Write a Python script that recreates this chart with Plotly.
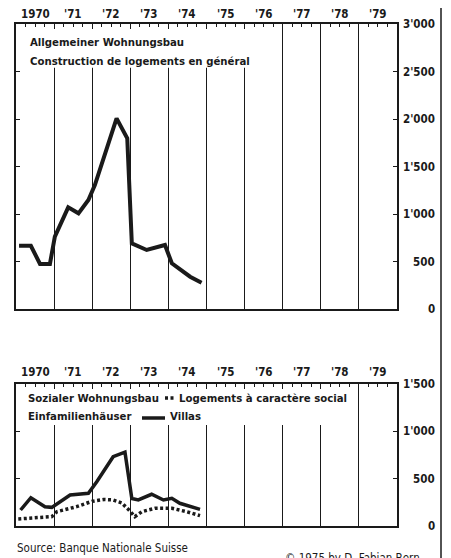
import plotly.graph_objects as go

# ---------------- data ----------------
year_labels = ["1970", "'71", "'72", "'73", "'74", "'75", "'76", "'77", "'78", "'79"]
year_label_pos = [1970.5 + i for i in range(10)]
grid_years = list(range(1970, 1981))

top_ticks = [0, 500, 1000, 1500, 2000, 2500, 3000]
top_tick_text = ["0", "500", "1'000", "1'500", "2'000", "2'500", "3'000"]
bot_ticks = [0, 500, 1000, 1500]
bot_tick_text = ["0", "500", "1'000", "1'500"]

# Allgemeiner Wohnungsbau / Construction de logements en général
general_t = [1970.08, 1970.39, 1970.63, 1970.89, 1971.02, 1971.37, 1971.64, 1971.90,
             1972.07, 1972.64, 1972.92, 1973.04, 1973.43, 1973.91, 1974.09, 1974.57, 1974.87]
general_v = [666, 666, 474, 474, 761, 1070, 1007, 1147,
             1305, 2007, 1797, 691, 621, 674, 481, 340, 277]

# Einfamilienhäuser / Villas
villa_t = [1970.12, 1970.39, 1970.76, 1970.94, 1971.42, 1971.90, 1972.12, 1972.55,
           1972.86, 1973.04, 1973.21, 1973.56, 1973.87, 1974.09, 1974.30, 1974.83]
villa_v = [169, 299, 204, 197, 327, 345, 468, 732,
           780, 290, 275, 335, 275, 292, 240, 176]

# Sozialer Wohnungsbau / Logements à caractère social
social_t = [1970.06, 1970.94, 1971.07, 1971.59, 1971.99, 1972.30, 1972.55, 1972.77,
            1972.95, 1973.12, 1973.30, 1973.65, 1974.09, 1974.48, 1974.83]
social_v = [74, 99, 151, 204, 260, 280, 275, 245,
            175, 99, 151, 187, 187, 151, 109]

# ---------------- layout geometry ----------------
# page body has an 8px default margin, so the figure is drawn 8px smaller
OFF = 8
W, H = 451 - OFF, 558 - OFF
PL, PR, PT, PB = 16, 397, 24, 526      # plot area in window pixels
PW = PR - PL
PH = PB - PT


def px(xp):
    return (xp - PL) / PW


def py(yp):
    return (PB - yp) / PH


FONT = "DejaVu Sans Condensed, Liberation Sans Narrow, sans-serif"
INK = "#1a1a1a"

fig = go.Figure()

fig.add_trace(go.Scatter(x=general_t, y=general_v, mode="lines",
                         line=dict(color=INK, width=4), xaxis="x", yaxis="y",
                         showlegend=False, hoverinfo="skip"))
fig.add_trace(go.Scatter(x=social_t, y=social_v, mode="lines",
                         line=dict(color=INK, width=3.5, dash="3px,2.5px"),
                         xaxis="x2", yaxis="y2", showlegend=False, hoverinfo="skip"))
fig.add_trace(go.Scatter(x=villa_t, y=villa_v, mode="lines",
                         line=dict(color=INK, width=3.5), xaxis="x2", yaxis="y2",
                         showlegend=False, hoverinfo="skip"))

xcommon = dict(range=[1970, 1980], side="top", tickmode="array", tickvals=grid_years,
               ticks="inside", ticklen=5, tickwidth=1, tickcolor=INK,
               showticklabels=False, showgrid=True, gridcolor=INK, gridwidth=1,
               showline=True, linecolor=INK, linewidth=1.5, mirror=True, zeroline=False,
               minor=dict(tickmode="linear", tick0=1970, dtick=0.25, ticks="inside",
                          ticklen=3, tickwidth=1, tickcolor=INK, showgrid=False))
ycommon = dict(side="right", tickmode="array", ticks="inside", ticklen=4, tickwidth=1,
               tickcolor=INK, mirror="ticks", showline=True, linecolor=INK, linewidth=1.5,
               showgrid=False, zeroline=False, showticklabels=False)

top_dom = [py(309), 1.0]
bot_dom = [0.0, py(384)]

fig.update_layout(
    width=W, height=H,
    margin=dict(l=PL - OFF, r=451 - PR, t=PT - OFF, b=558 - PB, autoexpand=False),
    paper_bgcolor="white", plot_bgcolor="white",
    xaxis=dict(domain=[0, 1], anchor="y", **xcommon),
    yaxis=dict(domain=top_dom, anchor="x", range=[0, 3000], tickvals=top_ticks, **ycommon),
    xaxis2=dict(domain=[0, 1], anchor="y2", **xcommon),
    yaxis2=dict(domain=bot_dom, anchor="x2", range=[0, 1500], tickvals=bot_ticks, **ycommon),
)

bold = dict(family=FONT, size=11.5, color=INK, weight="bold")
text_font = dict(family=FONT, size=11.3, color=INK, weight="bold")
plain = dict(family=FONT, size=11.5, color=INK)

ann = []
# year labels
for pos, lab in zip(year_label_pos, year_labels):
    ann.append(dict(x=pos, xref="x", y=py(14), yref="paper", text=lab, showarrow=False,
                    font=bold, xanchor="center", yanchor="middle"))
    ann.append(dict(x=pos, xref="x2", y=py(372), yref="paper", text=lab, showarrow=False,
                    font=bold, xanchor="center", yanchor="middle"))
# right-aligned value labels
for v, lab in zip(top_ticks, top_tick_text):
    ann.append(dict(x=px(437), xref="paper", y=v, yref="y", text=lab, showarrow=False,
                    font=bold, xanchor="right", yanchor="middle"))
for v, lab in zip(bot_ticks, bot_tick_text):
    ann.append(dict(x=px(437), xref="paper", y=v, yref="y2", text=lab, showarrow=False,
                    font=bold, xanchor="right", yanchor="middle"))

# titles
ann += [
    dict(x=px(28), y=py(43), xref="paper", yref="paper", text="Allgemeiner Wohnungsbau",
         showarrow=False, xanchor="left", yanchor="middle", font=text_font),
    dict(x=px(28), y=py(61), xref="paper", yref="paper",
         text="Construction de logements en général",
         showarrow=False, xanchor="left", yanchor="middle", font=text_font),
    dict(x=px(26), y=py(398), xref="paper", yref="paper", text="Sozialer Wohnungsbau",
         showarrow=False, xanchor="left", yanchor="middle", font=text_font),
    dict(x=px(177), y=py(398), xref="paper", yref="paper", text="Logements à caractère social",
         showarrow=False, xanchor="left", yanchor="middle", font=text_font),
    dict(x=px(26), y=py(416), xref="paper", yref="paper", text="Einfamilienhäuser",
         showarrow=False, xanchor="left", yanchor="middle", font=text_font),
    dict(x=px(168), y=py(416), xref="paper", yref="paper", text="Villas",
         showarrow=False, xanchor="left", yanchor="middle", font=text_font),
    dict(x=px(15), y=py(548), xref="paper", yref="paper", text="Source: Banque Nationale Suisse",
         showarrow=False, xanchor="left", yanchor="middle", font=plain),
    dict(x=px(283), y=py(558), xref="paper", yref="paper", text="© 1975 by D. Fabian Bern",
         showarrow=False, xanchor="left", yanchor="middle", font=plain),
]
fig.update_layout(annotations=ann)

shapes = [
    # white boxes behind the titles (cover grid lines)
    dict(type="rect", xref="x", yref="y", x0=1970, x1=1976.55, y0=2540, y1=3000,
         fillcolor="white", line=dict(width=0), layer="between"),
    dict(type="rect", xref="x2", yref="y2", x0=1970, x1=1978.8, y0=1067, y1=1500,
         fillcolor="white", line=dict(width=0), layer="between"),
    # legend glyphs
    dict(type="line", xref="paper", yref="paper", x0=px(165), x1=px(176), y0=py(398), y1=py(398),
         line=dict(color=INK, width=3.5, dash="3px,2.5px")),
    dict(type="line", xref="paper", yref="paper", x0=px(142), x1=px(165), y0=py(418), y1=py(418),
         line=dict(color=INK, width=3.5)),
    # page border on the right
    dict(type="line", xref="paper", yref="paper", x0=px(441), x1=px(441), y0=py(560), y1=py(-5),
         line=dict(color=INK, width=1.5)),
]
fig.update_layout(shapes=shapes)

fig.write_html("out.html")
